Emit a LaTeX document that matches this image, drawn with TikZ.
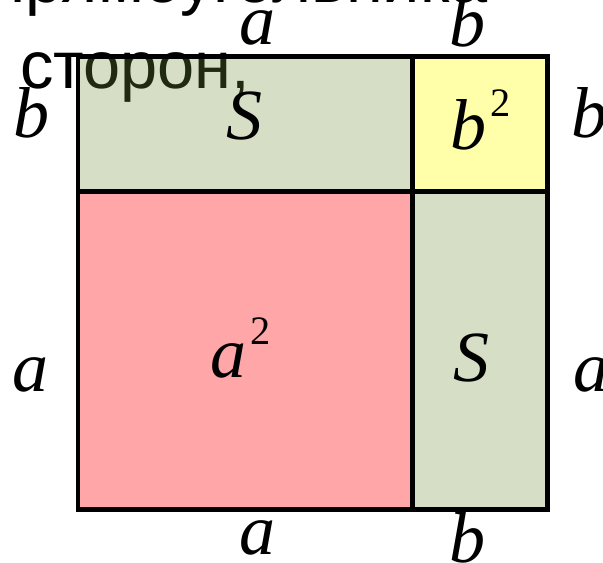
\documentclass[tikz,border=0pt]{standalone}
\usepackage{fontspec}
\usepackage{tikz}
\newfontfamily\slidefont{Liberation Sans}
\newfontfamily\labelfont{Liberation Serif}
\definecolor{sideFill}{RGB}{113,145,58}
\definecolor{bigFill}{RGB}{255,167,168}
\definecolor{smallFill}{RGB}{255,255,170}
\colorlet{ink}{black}
\tikzset{
  slidetext/.style={
    anchor=base west,
    inner sep=0pt,
    text=ink,
    font=\slidefont\fontsize{38}{44}\selectfont
  },
  sidelabel/.style={
    anchor=base,
    inner sep=0pt,
    text=ink,
    font=\labelfont\itshape\fontsize{41}{48}\selectfont
  },
  arealabel/.style={
    anchor=base west,
    inner sep=0pt,
    text=ink,
    font=\labelfont\fontsize{41}{48}\selectfont
  },
  rectpart/.style={fill=sideFill, fill opacity=0.29},
  border/.style={draw=ink, line width=0.1cm}
}
\newcommand{\SquareOf}[1]{\textit{#1}\hspace{0.06em}\raisebox{0.46em}{\fontsize{23}{23}\selectfont 2}}

\begin{document}
\begin{tikzpicture}[x=0.02cm,y=-0.02cm]
  \useasboundingbox (0,0) rectangle (603,563);
  \clip (0,0) rectangle (603,563);

  \node[slidetext] (lineone) at (-11,3) {прямоугольника};
  \node[slidetext] (linetwo) at (-36,89) {и сторон,};

  \fill[rectpart] (78,57) rectangle (412,192);
  \fill[smallFill] (412,57) rectangle (547,192);
  \fill[bigFill] (78,192) rectangle (412,510);
  \fill[rectpart] (412,192) rectangle (547,510);

  \draw[border] (78,57) rectangle (547,510);
  \draw[border] (412,57) -- (412,510);
  \draw[border] (78,192) -- (547,192);

  \node[sidelabel] (topa) at (258,45) {a};
  \node[sidelabel] (topb) at (468,47) {b};
  \node[sidelabel] (leftb) at (32,138) {b};
  \node[sidelabel] (rightb) at (590,138) {b};
  \node[sidelabel] (lefta) at (31,392) {a};
  \node[sidelabel] (righta) at (592,392) {a};
  \node[sidelabel] (bottoma) at (258,555) {a};
  \node[sidelabel] (bottomb) at (468,563) {b};

  \node[sidelabel] (topS) at (245,140) {S};
  \node[sidelabel] (rightS) at (472,382) {S};
  \node[arealabel] (bsq) at (450,150) {\SquareOf{b}};
  \node[arealabel] (asq) at (210,378) {\SquareOf{a}};
\end{tikzpicture}
\end{document}
